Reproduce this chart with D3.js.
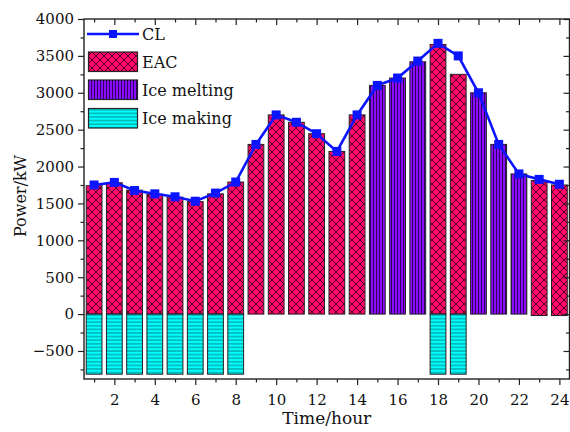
<!DOCTYPE html>
<html><head><meta charset="utf-8">
<script src="https://cdn.jsdelivr.net/npm/d3@7"></script>
<style>body{margin:0;background:#fff}svg{display:block}text{font-family:"DejaVu Serif",serif;fill:#111}</style>
</head><body><svg id="c" width="570" height="432"></svg>
<script>
const hours = [1,2,3,4,5,6,7,8,9,10,11,12,13,14,15,16,17,18,19,20,21,22,23,24];
const cl    = [1750,1785,1675,1630,1590,1530,1640,1790,2300,2700,2600,2445,2205,2700,3100,3200,3430,3670,3500,3000,2300,1900,1826,1760];
const eac   = [1740,1780,1680,1625,1585,1525,1630,1790,2300,2700,2600,2445,2205,2700,0,0,0,3655,3250,0,0,0,1810,1750];
const eacBelow = [0,0,0,0,0,0,0,0,0,0,0,0,0,0,0,0,0,0,0,0,0,0,-20,-20];
const iceMelting = [0,0,0,0,0,0,0,0,0,0,0,0,0,0,3100,3200,3420,0,0,3000,2300,1900,0,0];
const iceMaking  = [-815,-815,-815,-815,-815,-815,-815,-815,0,0,0,0,0,0,0,0,0,-815,-815,0,0,0,0,0];
const yTicks = [-500,0,500,1000,1500,2000,2500,3000,3500,4000];
const yMinor = [-750,-250,250,750,1250,1750,2250,2750,3250,3750];
const xTicks = [2,4,6,8,10,12,14,16,18,20,22,24];
const xMinor = [1,3,5,7,9,11,13,15,17,19,21,23];
const legendItems = ["CL","EAC","Ice melting","Ice making"];

const svg = d3.select("#c");
const L=84, R=569.5, T=19, B=379;
const x = d3.scaleLinear().domain([0.5,24.5]).range([L,R]);
const y = d3.scaleLinear().domain([-880,4000]).range([B,T]);
const bw = (x(2)-x(1))*0.78;

// patterns
const defs = svg.append("defs");
const pX = defs.append("pattern").attr("id","pX").attr("patternUnits","userSpaceOnUse").attr("width",8).attr("height",8);
pX.append("rect").attr("width",8).attr("height",8).attr("fill","#ff0a6c");
pX.append("path").attr("d","M0,0L8,8M8,0L0,8M-1,7L1,9M7,-1L9,1").attr("stroke","#2a0010").attr("stroke-width",0.8);
const pV = defs.append("pattern").attr("id","pV").attr("patternUnits","userSpaceOnUse").attr("width",3).attr("height",4);
pV.append("rect").attr("width",3).attr("height",4).attr("fill","#8a0cff");
pV.append("path").attr("d","M1.5,0V4").attr("stroke","#1a0030").attr("stroke-width",0.8);
const pH = defs.append("pattern").attr("id","pH").attr("patternUnits","userSpaceOnUse").attr("width",4).attr("height",3.6);
pH.append("rect").attr("width",4).attr("height",3.6).attr("fill","#00ffff");
pH.append("path").attr("d","M0,1.8H4").attr("stroke","#0a4a4a").attr("stroke-width",0.7);

function bars(vals, base, fill){
  svg.append("g").selectAll("rect").data(hours.map((h,i)=>({h,v:vals[i],b:base?base[i]:0})).filter(d=>d.v!==0))
    .join("rect")
    .attr("x",d=>x(d.h)-bw/2).attr("width",bw)
    .attr("y",d=>y(Math.max(d.v,d.b))).attr("height",d=>Math.abs(y(d.v)-y(d.b)))
    .attr("fill",fill).attr("stroke","#222").attr("stroke-width",1);
}
bars(eac, eacBelow, "url(#pX)");
bars(iceMelting, null, "url(#pV)");
bars(iceMaking, null, "url(#pH)");

// line
const line = d3.line().x((d,i)=>x(hours[i])).y(d=>y(d));
svg.append("path").datum(cl).attr("d",line).attr("fill","none").attr("stroke","#0a14ff").attr("stroke-width",2.6);
svg.append("g").selectAll("rect").data(cl).join("rect")
  .attr("x",(d,i)=>x(hours[i])-4.5).attr("y",d=>y(d)-4.5).attr("width",9).attr("height",9).attr("fill","#0a14ff");

// axes
function styleAxis(g){ g.select(".domain").remove(); g.selectAll("line").attr("stroke","#222").attr("stroke-width",1.2); g.selectAll("text").attr("font-size",15).attr("font-family","DejaVu Serif").attr("fill","#111"); }
svg.append("g").attr("transform",`translate(${L},0)`).call(d3.axisLeft(y).tickValues(yTicks).tickSize(6).tickPadding(4).tickFormat(d=>d<0?"\u2212"+Math.abs(d):d)).call(styleAxis);
svg.append("g").attr("transform",`translate(${L},0)`).call(d3.axisLeft(y).tickValues(yMinor).tickSize(3.5).tickFormat("")).call(styleAxis);
svg.append("g").attr("transform",`translate(${R},0)`).call(d3.axisLeft(y).tickValues(yTicks).tickSize(6).tickFormat("")).call(styleAxis);
svg.append("g").attr("transform",`translate(${R},0)`).call(d3.axisLeft(y).tickValues(yMinor).tickSize(3.5).tickFormat("")).call(styleAxis);
svg.append("g").attr("transform",`translate(0,${B})`).call(d3.axisBottom(x).tickValues(xTicks).tickSize(6).tickPadding(9).tickFormat(d3.format("d"))).call(styleAxis);
svg.append("g").attr("transform",`translate(0,${B})`).call(d3.axisBottom(x).tickValues(xMinor).tickSize(3.5).tickFormat("")).call(styleAxis);
svg.append("g").attr("transform",`translate(0,${T})`).call(d3.axisBottom(x).tickValues(xTicks).tickSize(6).tickFormat("")).call(styleAxis);
svg.append("g").attr("transform",`translate(0,${T})`).call(d3.axisBottom(x).tickValues(xMinor).tickSize(3.5).tickFormat("")).call(styleAxis);
svg.append("rect").attr("x",L).attr("y",T).attr("width",R-L).attr("height",B-T).attr("fill","none").attr("stroke","#222").attr("stroke-width",1.4);

// titles
svg.append("text").attr("x",(L+R)/2).attr("y",424).attr("text-anchor","middle").attr("font-size",17).text("Time/hour");
svg.append("text").attr("transform","translate(26,196) rotate(-90)").attr("text-anchor","middle").attr("font-size",16).text("Power/kW");

// legend
const lg = svg.append("g");
const lx0=87, lx1=139, tx=142;
lg.append("line").attr("x1",lx0).attr("x2",lx1).attr("y1",34).attr("y2",34).attr("stroke","#0a14ff").attr("stroke-width",2.6);
lg.append("rect").attr("x",(lx0+lx1)/2-4).attr("y",30).attr("width",8).attr("height",8).attr("fill","#0a14ff");
const sw = [["url(#pX)",52],["url(#pV)",80],["url(#pH)",108.5]];
sw.forEach(([f,yy])=>lg.append("rect").attr("x",88.5).attr("y",yy).attr("width",49).attr("height",19.5).attr("fill",f).attr("stroke","#222").attr("stroke-width",1.2));
const ty=[40,67.5,95.5,124];
legendItems.forEach((t,i)=>lg.append("text").attr("x",tx).attr("y",ty[i]).attr("font-size",16).text(t));
</script></body></html>
